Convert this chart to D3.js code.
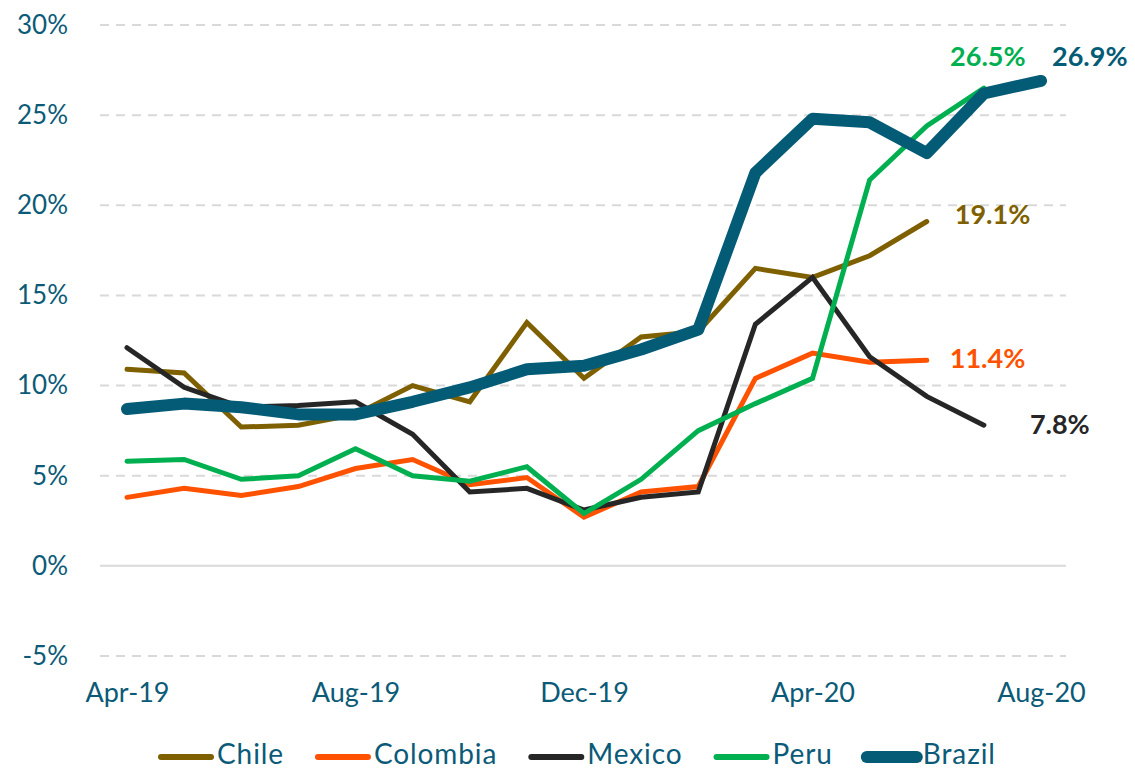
<!DOCTYPE html>
<html>
<head>
<meta charset="utf-8">
<script src="https://cdn.jsdelivr.net/npm/d3@7"></script>
<style>
  body { margin: 0; background: #fff; }
  svg text { font-family: Lato, "Open Sans", sans-serif; }
</style>
</head>
<body>
<div id="chart"></div>
<script>
// months on the x axis
const months = ["Apr-19","May-19","Jun-19","Jul-19","Aug-19","Sep-19","Oct-19","Nov-19","Dec-19",
                "Jan-20","Feb-20","Mar-20","Apr-20","May-20","Jun-20","Jul-20","Aug-20"];
const tickLabels = ["Apr-19","Aug-19","Dec-19","Apr-20","Aug-20"];
const yTicks = [-5, 0, 5, 10, 15, 20, 25, 30];

// series values (%)
const chile    = [10.9,10.7,7.7,7.8,8.4,10.0,9.1,13.5,10.4,12.7,13.0,16.5,16.0,17.2,19.1,null,null];
const colombia = [3.8,4.3,3.9,4.4,5.4,5.9,4.5,4.9,2.7,4.1,4.4,10.4,11.8,11.3,11.4,null,null];
const mexico   = [12.1,9.9,8.8,8.9,9.1,7.3,4.1,4.3,3.1,3.8,4.1,13.4,16.0,11.6,9.4,7.8,null];
const peru     = [5.8,5.9,4.8,5.0,6.5,5.0,4.7,5.5,2.9,4.8,7.5,9.0,10.4,21.4,24.4,26.5,null];
const brazil   = [8.7,9.0,8.8,8.4,8.4,9.1,9.9,10.9,11.1,12.0,13.1,21.8,24.8,24.6,22.9,26.2,26.9];

const names = ["Chile","Colombia","Mexico","Peru","Brazil"];
const values = [chile, colombia, mexico, peru, brazil];
const colors = ["#7f6000","#ff5200","#262626","#00b050","#045b75"];
const widths = [5, 5, 5, 5, 12];
// end label offsets (dx, dy) from the last point
const labelOffsets = [[28, -4], [23, 1], [46, 2], [4, -29], [11, -22]];
const labelAnchors = ["start","start","start","middle","start"];

const W = 1135, H = 771;
const svg = d3.select("#chart").append("svg")
    .attr("width", W)
    .attr("height", H);

const x = d3.scalePoint()
    .domain(months)
    .range([127, 1041]);

const y = d3.scaleLinear()
    .domain([-5, 30])
    .range([656, 25]);

// gridlines
svg.append("g").selectAll("line")
    .data(yTicks)
    .enter()
    .append("line")
    .attr("x1", 100)
    .attr("x2", 1066)
    .attr("y1", d => y(d))
    .attr("y2", d => y(d))
    .attr("stroke", "#d9d9d9")
    .attr("stroke-width", 2)
    .attr("stroke-dasharray", d => d === 0 ? null : "9,7");

// y axis
const yAxis = d3.axisLeft(y)
    .tickValues(yTicks)
    .tickSize(0)
    .tickPadding(0)
    .tickFormat(d => d + "%");

svg.append("g")
    .attr("transform", "translate(68,0)")
    .call(yAxis)
    .call(g => g.select(".domain").remove())
    .selectAll("text")
    .attr("font-size", 26)
    .attr("fill", "#0b5a77");

// x axis
const xAxis = d3.axisBottom(x)
    .tickValues(tickLabels)
    .tickSize(0)
    .tickPadding(0);

svg.append("g")
    .attr("transform", "translate(0,683)")
    .call(xAxis)
    .call(g => g.select(".domain").remove())
    .selectAll("text")
    .attr("font-size", 27)
    .attr("fill", "#0b5a77");

// lines
const line = d3.line()
    .defined(d => d != null)
    .x((d, i) => x(months[i]))
    .y(d => y(d));

values.forEach((vals, k) => {
    svg.append("path")
        .datum(vals)
        .attr("d", line)
        .attr("fill", "none")
        .attr("stroke", colors[k])
        .attr("stroke-width", widths[k])
        .attr("stroke-linecap", "round")
        .attr("stroke-linejoin", k === 4 ? "round" : "miter");
});

// end labels
values.forEach((vals, k) => {
    let last = vals.length - 1;
    while (vals[last] == null) last--;
    svg.append("text")
        .attr("x", x(months[last]) + labelOffsets[k][0])
        .attr("y", y(vals[last]) + labelOffsets[k][1])
        .attr("text-anchor", labelAnchors[k])
        .attr("dominant-baseline", "middle")
        .attr("font-size", 27)
        .attr("font-weight", "bold")
        .attr("fill", colors[k])
        .text(vals[last].toFixed(1) + "%");
});

// legend
const legend = svg.append("g").attr("transform", "translate(158,757)");
let lx = 0;
names.forEach((n, k) => {
    legend.append("line")
        .attr("x1", lx + 3)
        .attr("x2", lx + 53)
        .attr("stroke", colors[k])
        .attr("stroke-width", k === 4 ? 12 : 6)
        .attr("stroke-linecap", "round");
    const t = legend.append("text")
        .attr("x", lx + 59)
        .attr("dominant-baseline", "middle")
        .attr("font-size", 28)
        .attr("letter-spacing", 0.9)
        .attr("fill", "#0b5a77")
        .text(n);
    lx += 59 + t.node().getComputedTextLength() + 31;
});
</script>
</body>
</html>
